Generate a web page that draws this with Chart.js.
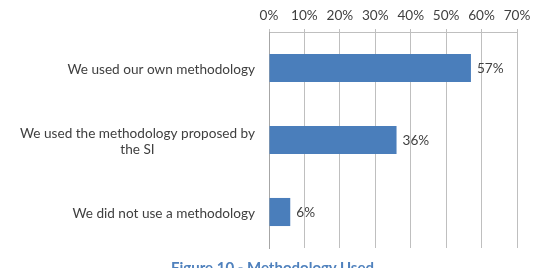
<!DOCTYPE html>
<html>
<head>
<meta charset="utf-8">
<script src="https://cdn.jsdelivr.net/npm/chart.js@4"></script>
<style>
  html, body { margin: 0; padding: 0; background: #fff; overflow: hidden; width: 545px; height: 268px; }
  #wrap { position: absolute; left: 0; top: 0; width: 545px; height: 268px; }
  #caption { position: absolute; left: 0; width: 545px; top: 258px; text-align: center;
    font-family: Lato, "Liberation Sans", sans-serif; font-weight: bold; font-size: 15px; color: #4F81BD; }
</style>
</head>
<body>
<div id="wrap"><canvas id="c" width="545" height="268"></canvas></div>
<div id="caption">Figure 10 - Methodology Used</div>
<script>
const categories = [
  ["We used our own methodology"],
  ["We used the methodology proposed by", "the SI"],
  ["We did not use a methodology"]
];
const values = [57, 36, 6];
const valueLabels = ["57%", "36%", "6%"];
const tickValues = [0, 10, 20, 30, 40, 50, 60, 70];

const FONT = "Lato, 'Liberation Sans', sans-serif";
const FSIZE = 13.6;

const labelPlugin = {
  id: 'valueLabels',
  afterDatasetsDraw(chart) {
    const ctx = chart.ctx;
    const meta = chart.getDatasetMeta(0);
    ctx.save();
    ctx.font = FSIZE + "px " + FONT;
    ctx.fillStyle = '#404040';
    ctx.textAlign = 'left';
    ctx.textBaseline = 'middle';
    meta.data.forEach((bar, i) => {
      ctx.fillText(valueLabels[i], bar.x + 6, bar.y + 1);
    });
    ctx.restore();
  },
  afterDraw(chart) {
    const ctx = chart.ctx;
    const yScale = chart.scales.y;
    ctx.save();
    ctx.font = FSIZE + "px " + FONT;
    ctx.fillStyle = '#404040';
    ctx.textAlign = 'center';
    ctx.textBaseline = 'middle';
    const right = yScale.right - 14;
    const lh = 16;
    categories.forEach((lines, i) => {
      const yc = yScale.getPixelForTick(i) + 1.5;
      const w = Math.max(...lines.map(l => ctx.measureText(l).width));
      const cx = right - w / 2;
      const y0 = yc - (lines.length - 1) * lh / 2;
      lines.forEach((l, j) => ctx.fillText(l, cx, y0 + j * lh));
    });
    ctx.restore();
  }
};

new Chart(document.getElementById('c'), {
  type: 'bar',
  data: {
    labels: categories,
    datasets: [{
      data: values,
      backgroundColor: '#4A7EBB',
      borderWidth: 0,
      categoryPercentage: 0.39,
      barPercentage: 1.0
    }]
  },
  options: {
    indexAxis: 'y',
    responsive: false,
    animation: false,
    devicePixelRatio: 1,
    layout: { padding: { left: 0, right: 28, top: 0, bottom: 20 } },
    plugins: { legend: { display: false }, tooltip: { enabled: false } },
    scales: {
      x: {
        position: 'top',
        min: 0, max: 70,
        afterBuildTicks(scale) { scale.ticks = tickValues.map(v => ({ value: v })); },
        afterFit(scale) { scale.height = 32; },
        ticks: {
          callback: v => v + '%',
          color: '#404040',
          font: { family: FONT, size: FSIZE },
          padding: 5,
          maxRotation: 0
        },
        grid: { color: '#BFBFBF', lineWidth: 1, tickLength: 3, drawTicks: true },
        border: { display: true, color: '#BFBFBF' }
      },
      y: {
        afterFit(scale) { scale.width = 269; },
        ticks: { display: false },
        grid: { display: false },
        border: { display: true, color: '#A6A6A6' }
      }
    }
  },
  plugins: [labelPlugin]
});
</script>
</body>
</html>
